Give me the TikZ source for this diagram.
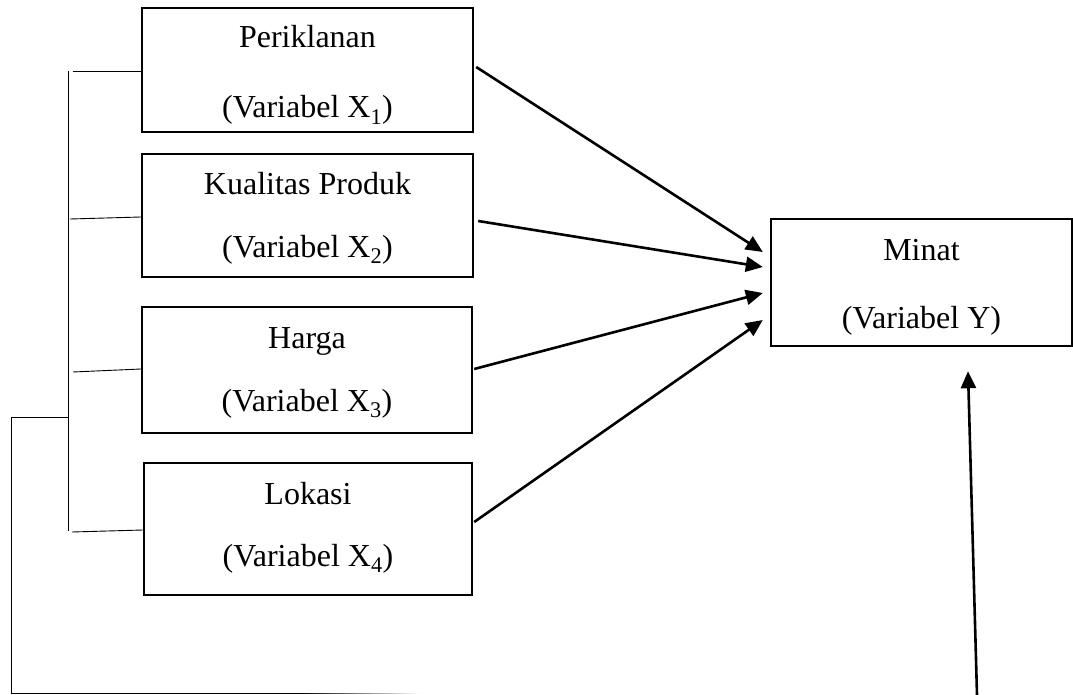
\documentclass[tikz,border=0pt]{standalone}
\usepackage{fontspec}
\setmainfont{Liberation Serif}
\usetikzlibrary{arrows.meta,calc}
\begin{document}
\begin{tikzpicture}[x=1pt,y=-1pt,
  box/.style={draw,line width=2.4pt,inner sep=0pt},
  lbl/.style={anchor=base,inner sep=0pt,font=\fontsize{32}{38}\selectfont},
  conn/.style={line width=2.6pt,-{Triangle[length=17pt,width=15pt]}},
  brk/.style={line width=0.9pt}]
\useasboundingbox (0,0) rectangle (1073,695);
% boxes
\node[box,minimum width=331pt,minimum height=124pt] (p) at (307.5,70) {};
\node[box,minimum width=331pt,minimum height=123pt] (k) at (307.5,215.5) {};
\node[box,minimum width=330pt,minimum height=126pt] (h) at (307,370) {};
\node[box,minimum width=328pt,minimum height=132pt] (l) at (308,529) {};
\node[box,minimum width=301pt,minimum height=127pt] (m) at (921.5,282.5) {};
% labels
\node[lbl] (p1) at (307.5,48) {Periklanan};
\node[lbl] (p2) at (307.5,118) {(Variabel X\textsubscript{1})};
\node[lbl] (k1) at (307.5,195) {Kualitas Produk};
\node[lbl] (k2) at (307.5,257) {(Variabel X\textsubscript{2})};
\node[lbl] (h1) at (307,348) {Harga};
\node[lbl] (h2) at (307,411) {(Variabel X\textsubscript{3})};
\node[lbl] (l1) at (308,504) {Lokasi};
\node[lbl] (l2) at (308,566) {(Variabel X\textsubscript{4})};
\node[lbl] (m1) at (921.5,260) {Minat};
\node[lbl] (m2) at (921.5,328) {(Variabel Y)};
% arrows to Minat
\draw[conn] ($(p.east)+(2,-3)$) -- ($(m.west)+(-7,-30.5)$);
\draw[conn] ($(k.east)+(4,5.5)$) -- ($(m.west)+(-7,-15.5)$);
\draw[conn] ($(h.east)+(1,-1)$) -- ($(m.west)+(-7,10.5)$);
\draw[conn] ($(l.east)+(1,-7)$) -- ($(m.west)+(-7,37.5)$);
% bottom feedback arrow
\coordinate (b) at (977,695);
\draw[conn] (b) -- ($(m.south)+(46.5,24)$);
% bracket
\coordinate (vt) at (68,71);
\coordinate (vb) at (68,531);
\coordinate (t1) at (73,71);
\coordinate (t2) at (70,219);
\coordinate (t3) at (73,372);
\coordinate (t4) at (72,532);
\draw[brk] (vt) -- (vb);
\draw[brk] (t1) -- ($(p.west)+(0,1)$);
\draw[brk] (t2) -- ($(k.west)+(0,1.5)$);
\draw[brk] (t3) -- ($(h.west)+(0,-1)$);
\draw[brk] (t4) -- ($(l.west)+(0,1)$);
% outer line
\coordinate (o1) at (68,417);
\coordinate (o2) at (11,417);
\coordinate (o3) at (11,693.5);
\coordinate (o4) at (300,693.5);
\draw[brk] (o1) -- (o2) -- (o3) -- (o4);
\shade[left color=black,right color=white] (300,693.05) rectangle (420,693.95);
\end{tikzpicture}
\end{document}
